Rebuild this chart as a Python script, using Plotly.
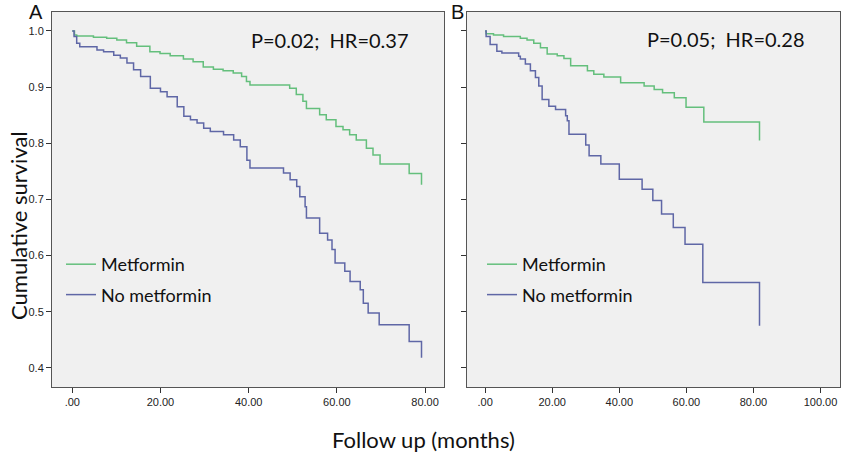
import plotly.graph_objects as go

# ---------------- data ----------------
# Panel A - Metformin
a_met_t = [0, 0.5, 1.0, 4.8, 7.8, 10.1, 12.3, 14.6, 17.6, 19.9, 22.2, 25.2, 27.4, 29.7,
           32.0, 34.2, 36.5, 38.4, 39.5, 40.3, 49.3, 50.8, 52.3, 53.1, 56.1, 57.6, 59.8,
           61.4, 62.9, 64.4, 66.7, 68.2, 69.8, 76.4, 79.2]
a_met_s = [1.0, 0.993, 0.991, 0.989, 0.987, 0.984, 0.979, 0.973, 0.963, 0.960, 0.956, 0.950,
           0.945, 0.936, 0.932, 0.929, 0.925, 0.919, 0.910, 0.904, 0.898, 0.887, 0.875,
           0.862, 0.851, 0.842, 0.830, 0.824, 0.815, 0.806, 0.791, 0.779, 0.763, 0.746, 0.726]
# Panel A - No metformin
a_no_t = [0, 0.4, 1.0, 1.7, 5.6, 7.1, 9.4, 10.9, 12.4, 13.9, 15.5, 17.7, 20.0, 21.5, 23.8,
          25.3, 26.8, 28.3, 29.8, 31.3, 34.3, 36.6, 38.1, 39.6, 40.3, 47.9, 49.4, 50.9,
          51.6, 52.8, 53.1, 56.1, 57.9, 58.9, 59.6, 61.8, 63.0, 65.3, 66.0, 67.1, 69.6,
          76.4, 79.2]
a_no_s = [1.0, 0.990, 0.978, 0.972, 0.966, 0.963, 0.957, 0.952, 0.943, 0.931, 0.919, 0.898,
          0.892, 0.883, 0.865, 0.848, 0.842, 0.836, 0.827, 0.821, 0.815, 0.806, 0.794,
          0.770, 0.756, 0.747, 0.735, 0.723, 0.705, 0.687, 0.667, 0.640, 0.628, 0.611,
          0.587, 0.572, 0.554, 0.539, 0.515, 0.498, 0.477, 0.447, 0.418]
# Panel B - Metformin
b_met_t = [0, 0.3, 2.5, 5.5, 10.5, 12.5, 14.5, 16.5, 18.5, 21.5, 23.5, 25.5, 30.5, 32.4,
           35.4, 40.4, 47.4, 50.4, 52.9, 56.4, 59.9, 65.2, 81.8]
b_met_s = [1.0, 0.995, 0.993, 0.990, 0.987, 0.984, 0.978, 0.970, 0.959, 0.956, 0.951, 0.938,
           0.929, 0.923, 0.918, 0.908, 0.902, 0.896, 0.890, 0.881, 0.864, 0.838, 0.805]
# Panel B - No metformin
b_no_t = [0, 0.3, 1.5, 3.5, 5.0, 10.0, 10.5, 12.0, 13.5, 15.0, 16.0, 17.0, 19.0, 21.0,
          24.0, 24.5, 25.0, 30.0, 31.0, 34.5, 40.0, 46.8, 50.0, 52.6, 56.1, 59.6, 64.9, 81.8]
b_no_s = [1.0, 0.990, 0.976, 0.964, 0.961, 0.955, 0.950, 0.941, 0.929, 0.917, 0.902, 0.878,
          0.866, 0.860, 0.849, 0.840, 0.816, 0.797, 0.778, 0.763, 0.736, 0.718, 0.698,
          0.674, 0.650, 0.620, 0.552, 0.475]

y_ticks = [0.4, 0.5, 0.6, 0.7, 0.8, 0.9, 1.0]
y_tick_labels = ["0.4", "0.5", "0.6", "0.7", "0.8", "0.9", "1.0"]
a_x_ticks = [0, 20, 40, 60, 80]
a_x_tick_labels = [".00", "20.00", "40.00", "60.00", "80.00"]
b_x_ticks = [0, 20, 40, 60, 80, 100]
b_x_tick_labels = [".00", "20.00", "40.00", "60.00", "80.00", "100.00"]

GREEN = "#64bf7c"
BLUE = "#5f67a6"
W, H = 846, 456

fig = go.Figure()
fig.add_trace(go.Scatter(x=a_met_t, y=a_met_s, mode="lines", name="Metformin",
                         line=dict(shape="hv", color=GREEN, width=1.5),
                         xaxis="x", yaxis="y", legend="legend", legendgroup="a1"))
fig.add_trace(go.Scatter(x=a_no_t, y=a_no_s, mode="lines", name="No metformin",
                         line=dict(shape="hv", color=BLUE, width=1.5),
                         xaxis="x", yaxis="y", legend="legend", legendgroup="a2"))
fig.add_trace(go.Scatter(x=b_met_t, y=b_met_s, mode="lines", name="Metformin",
                         line=dict(shape="hv", color=GREEN, width=1.5),
                         xaxis="x2", yaxis="y2", legend="legend2", legendgroup="b1"))
fig.add_trace(go.Scatter(x=b_no_t, y=b_no_s, mode="lines", name="No metformin",
                         line=dict(shape="hv", color=BLUE, width=1.5),
                         xaxis="x2", yaxis="y2", legend="legend2", legendgroup="b2"))

ydom = [1 - 387 / H, 1 - 12 / H]
tickfont = dict(family="Liberation Sans, Arial", size=11, color="#222")
common_axis = dict(showline=True, mirror=True, linecolor="#555", linewidth=1,
                   showgrid=False, zeroline=False, ticks="outside", ticklen=5,
                   tickcolor="#333", tickfont=tickfont)

legend_font = dict(family="Lato", size=18, color="#111")
fig.update_layout(
    width=W, height=H,
    margin=dict(l=0, r=0, t=0, b=0),
    paper_bgcolor="white",
    plot_bgcolor="#f0f0f0",
    xaxis=dict(domain=[52 / W, 444 / W], range=[-4.6, 84.3], anchor="y",
               tickvals=a_x_ticks, ticktext=a_x_tick_labels, **common_axis),
    yaxis=dict(domain=ydom, range=[0.366, 1.0338], anchor="x",
               tickvals=y_ticks, ticktext=y_tick_labels, **common_axis),
    xaxis2=dict(domain=[467 / W, 840 / W], range=[-5.4, 105.8], anchor="y2",
                tickvals=b_x_ticks, ticktext=b_x_tick_labels, **common_axis),
    yaxis2=dict(domain=ydom, range=[0.366, 1.0338], anchor="x2",
                tickvals=y_ticks, showticklabels=False, **common_axis),
    legend=dict(x=61 / W, y=1 - 246 / H, xanchor="left", yanchor="top",
                bgcolor="rgba(0,0,0,0)", font=legend_font,
                traceorder="grouped", tracegroupgap=4),
    legend2=dict(x=482 / W, y=1 - 246 / H, xanchor="left", yanchor="top",
                 bgcolor="rgba(0,0,0,0)", font=legend_font,
                 traceorder="grouped", tracegroupgap=4),
    showlegend=True,
)

annots = [
    dict(text="A", x=27 / W, y=1 - 12 / H, xanchor="left", yanchor="middle",
         font=dict(family="Liberation Sans, Arial", size=20, color="#111")),
    dict(text="B", x=449 / W, y=1 - 12 / H, xanchor="left", yanchor="middle",
         font=dict(family="Liberation Sans, Arial", size=20, color="#111")),
    dict(text="P=0.02;  HR=0.37", x=330 / W, y=1 - 40 / H, xanchor="center", yanchor="middle",
         font=dict(family="Lato", size=20, color="#111")),
    dict(text="P=0.05;  HR=0.28", x=726 / W, y=1 - 39 / H, xanchor="center", yanchor="middle",
         font=dict(family="Lato", size=20, color="#111")),
    dict(text="Cumulative survival", x=18 / W, y=1 - 226 / H, xanchor="center", yanchor="middle",
         textangle=-90, font=dict(family="Lato", size=22, color="#111")),
    dict(text="Follow up (months)", x=424 / W, y=1 - 439 / H, xanchor="center", yanchor="middle",
         font=dict(family="Lato", size=22, color="#111")),
]
for a in annots:
    fig.add_annotation(xref="paper", yref="paper", showarrow=False, **a)

fig.write_html("out.html", config={"displayModeBar": False},
               post_script="document.body.style.margin='0';document.body.style.overflow='hidden';")
